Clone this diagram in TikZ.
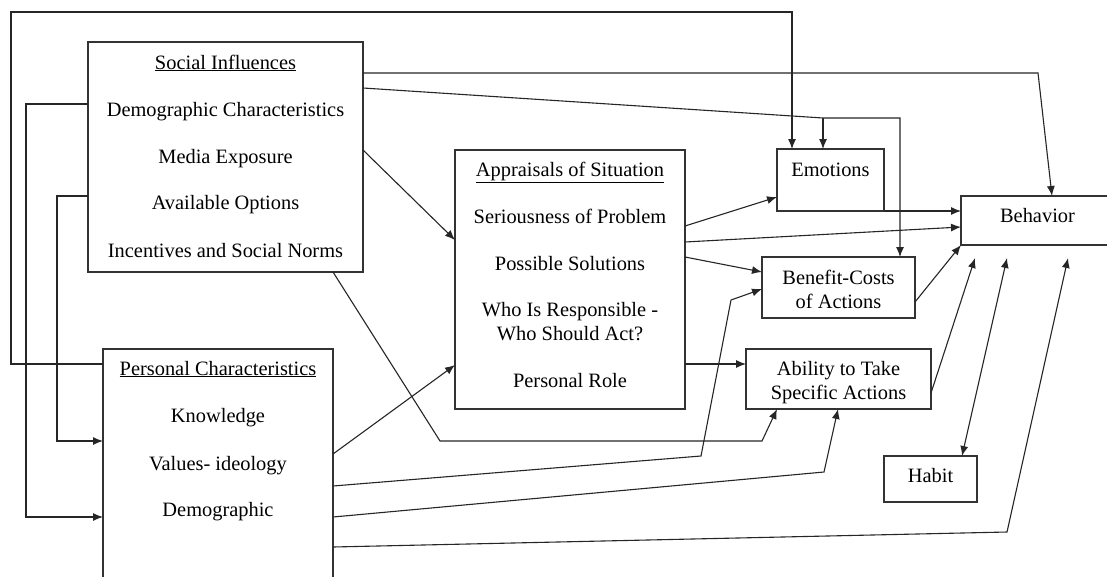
\documentclass[tikz,border=0pt]{standalone}
\usepackage{fontspec}
\setmainfont{Liberation Serif}
\usetikzlibrary{arrows.meta}
\tikzset{
  box/.style={draw=black!80, line width=1.2pt, inner sep=0pt, outer sep=0pt, anchor=north west},
  txt/.style={inner sep=0pt, anchor=base, font=\fontsize{20.4}{24}\selectfont, text=black},
  conn/.style={draw=black!85, line width=1.1pt},
  arr/.style={conn, -{Latex[length=10pt,width=8pt]}},
  darr/.style={conn, {Latex[length=10pt,width=8pt]}-{Latex[length=10pt,width=8pt]}}
}
\begin{document}
\begin{tikzpicture}[x=1pt,y=-1pt]
\useasboundingbox (0,0) rectangle (1107,576);
\clip (0,0) rectangle (1107,576);
\fill[white] (0,0) rectangle (1107,576);
% boxes
\node[box, minimum width=275pt, minimum height=230pt] (si) at (88,42) {};
\node[box, minimum width=230pt, minimum height=260pt] (pc) at (103,349) {};
\node[box, minimum width=230pt, minimum height=259pt] (ap) at (455,150) {};
\node[box, minimum width=107pt, minimum height=62pt] (em) at (777,149) {};
\node[box, minimum width=200pt, minimum height=49pt] (be) at (961,196) {};
\node[box, minimum width=153pt, minimum height=61pt] (bc) at (762,257) {};
\node[box, minimum width=185pt, minimum height=60pt] (ab) at (746,349) {};
\node[box, minimum width=93pt, minimum height=46pt] (ha) at (884,456) {};
% texts
\node[txt] (si0) at (225.5,69) {\underline{Social Influences}};
\node[txt] (si1) at (225.5,116) {Demographic Characteristics};
\node[txt] (si2) at (225.5,163) {Media Exposure};
\node[txt] (si3) at (225.5,209) {Available Options};
\node[txt] (si4) at (225.5,257) {Incentives and Social Norms};
\node[txt] (pc0) at (218,375) {\underline{Personal Characteristics}};
\node[txt] (pc1) at (218,422) {Knowledge};
\node[txt] (pc2) at (218,470) {Values- ideology};
\node[txt] (pc3) at (218,516) {Demographic};
\node[txt] (ap0) at (570,176) {\underline{Appraisals of Situation}};
\node[txt] (ap1) at (570,223) {Seriousness of Problem};
\node[txt] (ap2) at (570,270) {Possible Solutions};
\node[txt] (ap3) at (570,316) {Who Is Responsible -};
\node[txt] (ap4) at (570,340) {Who Should Act?};
\node[txt] (ap5) at (570,387) {Personal Role};
\node[txt] (em0) at (830.5,176) {Emotions};
\node[txt] (be0) at (1037.5,222) {Behavior};
\node[txt] (bc0) at (838.5,284) {Benefit-Costs};
\node[txt] (bc1) at (838.5,308) {of Actions};
\node[txt] (ab0) at (838.5,375) {Ability to Take};
\node[txt] (ab1) at (838.5,399) {Specific Actions};
\node[txt] (ha0) at (930.5,482) {Habit};
% free ends below Behavior
\coordinate (b1) at (975,258);
\coordinate (b2) at (1007,258);
\coordinate (b3) at (1068,258);
% connectors
\draw[arr] (pc.west |- 0,364) -- (11,364) -- (11,12) -- (792,12) -- (em.north -| 792,0);
\draw[arr] (si.west |- 0,104) -- (26,104) -- (26,517) -- (pc.west |- 0,517);
\draw[arr] (si.west |- 0,196) -- (57,196) -- (57,441) -- (pc.west |- 0,441);
\draw[arr] (si.east |- 0,73) -- (1038,73) -- (be.north -| 1052,0);
\draw[arr] (si.east |- 0,88) -- (823,118) coordinate (j1) -- (900,118) -- (bc.north -| 900,0);
\draw[arr] (j1) -- (em.north -| 823,0);
\draw[arr] (si.east |- 0,150) -- (ap.west |- 0,240);
\draw[arr] (si.south -| 333,0) -- (440,441) -- (762,441) -- (ab.south -| 777,0);
\draw[arr] (pc.east |- 0,454) -- (ap.west |- 0,365);
\draw[arr] (pc.east |- 0,486) -- (701,456) -- (731,300) -- (bc.west |- 0,289);
\draw[arr] (pc.east |- 0,517) -- (824,472) -- (ab.south -| 838,0);
\draw[arr] (pc.east |- 0,547) -- (1007,532) -- (b3);
\draw[arr] (ap.east |- 0,226) -- (em.west |- 0,197);
\draw[arr] (ap.east |- 0,242) -- (be.west |- 0,227);
\draw[arr] (em.south east) -- (be.west |- 0,211);
\draw[arr] (ap.east |- 0,257) -- (bc.west |- 0,272);
\draw[arr] (ap.east |- 0,364) -- (ab.west |- 0,364);
\draw[arr] (bc.east |- 0,302) -- (be.south west);
\draw[arr] (ab.east |- 0,393) -- (b1);
\draw[darr] (ha.north -| 962,0) -- (b2);
\end{tikzpicture}
\end{document}
